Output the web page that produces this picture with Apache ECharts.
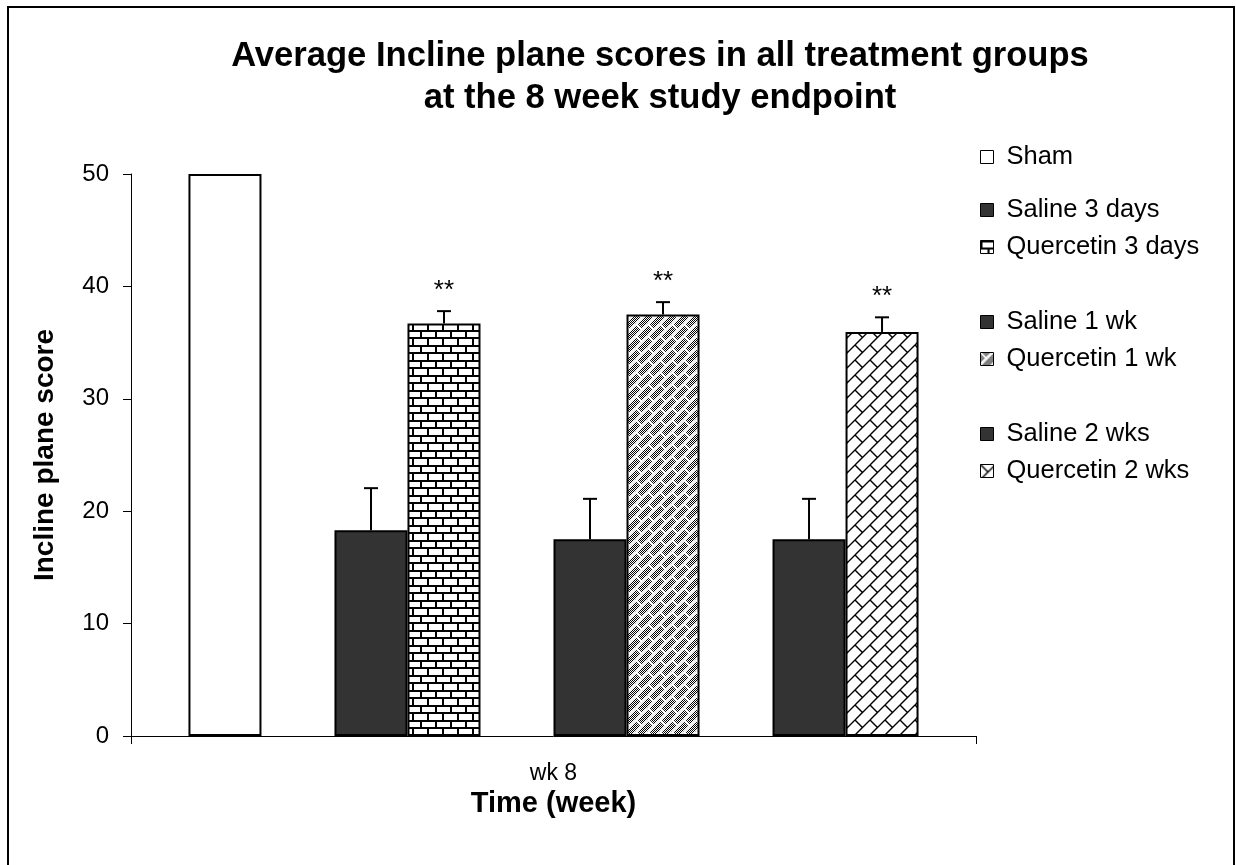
<!DOCTYPE html>
<html><head><meta charset="utf-8">
<script src="https://cdn.jsdelivr.net/npm/echarts@6/dist/echarts.min.js"></script>
<style>html,body{margin:0;padding:0;background:#fff}#c{width:1236px;height:865px}</style>
</head><body><div id="c"></div>
<script>
// ---------- data ----------
const categories = ['wk 8'];
const seriesNames = ['Sham', 'Saline 3 days', 'Quercetin 3 days', 'Saline 1 wk', 'Quercetin 1 wk', 'Saline 2 wks', 'Quercetin 2 wks'];
const means = [50, 18.3, 36.7, 17.5, 37.5, 17.5, 35.95];
const upperErr = [null, 22.05, 37.8, 21.1, 38.6, 21.1, 37.25];
const significance = ['', '', '**', '', '**', '', '**'];
// bar slots inside the single category (null = empty slot)
const slotOrder = [0, null, 1, 2, null, 3, 4, null, 5, 6];
const yTickLabels = [0, 10, 20, 30, 40, 50];
const legendGroups = [['Sham'], ['Saline 3 days', 'Quercetin 3 days'], ['Saline 1 wk', 'Quercetin 1 wk'], ['Saline 2 wks', 'Quercetin 2 wks']];

const FONT = "'Liberation Sans', Arial, sans-serif";
const CAT_GAP = 0.136;

// ---------- patterns ----------
function mk(w, h) { const c = document.createElement('canvas'); c.width = w; c.height = h; return c; }
function brick() {
  const c = mk(15, 15), g = c.getContext('2d');
  g.fillStyle = '#fff'; g.fillRect(0, 0, 15, 15);
  g.fillStyle = '#000';
  g.fillRect(0, 0, 15, 2); g.fillRect(0, 7, 15, 2);
  g.fillRect(0, 2, 2, 5); g.fillRect(7, 9, 2, 6);
  return c;
}
function diagBrick(T, bg, fg, lw, dither) {
  const c = mk(T, T), g = c.getContext('2d');
  g.fillStyle = bg; g.fillRect(0, 0, T, T);
  if (dither) {
    g.fillStyle = '#000';
    for (let y = 0; y < T; y++) for (let x = 0; x < T; x++) if ((x + y) % 2 === 0) g.fillRect(x, y, 1, 1);
  }
  g.strokeStyle = fg; g.lineWidth = lw;
  for (const ox of [-T, 0, T]) for (const oy of [-T, 0, T]) {
    g.beginPath();
    g.moveTo(ox, oy + T); g.lineTo(ox + T, oy);
    g.moveTo(ox, oy); g.lineTo(ox + T / 2, oy + T / 2);
    g.stroke();
  }
  return c;
}
const fills = {
  'Sham': '#ffffff',
  'Saline 3 days': '#333333',
  'Quercetin 3 days': { image: brick(), repeat: 'repeat' },
  'Saline 1 wk': '#333333',
  'Quercetin 1 wk': { image: diagBrick(12, '#fff', '#fff', 2.2, true), repeat: 'repeat' },
  'Saline 2 wks': '#333333',
  'Quercetin 2 wks': { image: diagBrick(15, '#fff', '#000', 1.4, false), repeat: 'repeat' }
};

// ---------- series ----------
const series = slotOrder.map((si, k) => {
  if (si === null) {
    return { type: 'bar', name: 'spacer' + k, data: ['-'], barGap: '0%', barCategoryGap: (CAT_GAP * 100) + '%', silent: true };
  }
  const nm = seriesNames[si];
  return {
    type: 'bar', name: nm, data: [means[si]],
    barGap: '0%', barCategoryGap: (CAT_GAP * 100) + '%',
    itemStyle: { color: fills[nm], borderColor: '#000', borderWidth: 2 },
    emphasis: { disabled: true }
  };
});

const errData = [];
slotOrder.forEach((si, k) => {
  if (si !== null && upperErr[si] !== null) errData.push([0, means[si], upperErr[si], k, si]);
});
series.push({
  type: 'custom', name: 'err', z: 10, silent: true,
  data: errData,
  renderItem: function (params, api) {
    const mean = api.value(1), up = api.value(2), slot = api.value(3), si = api.value(4);
    const base = api.coord([api.value(0), mean]);
    const topP = api.coord([api.value(0), up]);
    const band = api.size([1, 0])[0];
    const used = band * (1 - CAT_GAP);
    const bw = used / slotOrder.length;
    const x = base[0] - used / 2 + bw * (slot + 0.5);
    const kids = [
      { type: 'line', shape: { x1: x, y1: base[1], x2: x, y2: topP[1] }, style: { stroke: '#000', lineWidth: 2 } },
      { type: 'line', shape: { x1: x - 7, y1: topP[1], x2: x + 7, y2: topP[1] }, style: { stroke: '#000', lineWidth: 2 } }
    ];
    if (significance[si]) {
      kids.push({ type: 'text', x: x, y: topP[1] - 20, style: { text: significance[si], fontSize: 26, fontFamily: FONT, fill: '#000', align: 'center', verticalAlign: 'middle' } });
    }
    return { type: 'group', children: kids };
  }
});

const legendTops = [139, 192, 304, 416];
const legends = legendGroups.map((grp, i) => ({
  orient: 'vertical', left: 975, top: legendTops[i], data: grp,
  itemWidth: 13, itemHeight: 13, itemGap: 11, icon: 'rect', selectedMode: false,
  itemStyle: { borderColor: '#000', borderWidth: 1 },
  textStyle: { fontSize: 25.5, fontFamily: FONT, color: '#000', lineHeight: 26, padding: [0, 0, 0, 8] }
}));

const chart = echarts.init(document.getElementById('c'), null, { renderer: 'canvas' });
chart.setOption({
  animation: false,
  backgroundColor: '#fff',
  title: {
    text: 'Average Incline plane scores in all treatment groups\nat the 8 week study endpoint',
    left: 655, top: 30, textAlign: 'center',
    textStyle: { fontSize: 34.6, fontWeight: 'bold', fontFamily: FONT, color: '#000', lineHeight: 42 }
  },
  legend: legends,
  grid: { left: 131, right: 260, top: 174, bottom: 129, containLabel: false },
  xAxis: {
    type: 'category', data: categories,
    axisLine: { lineStyle: { color: '#000', width: 1 } },
    axisTick: { show: true, length: 8, lineStyle: { color: '#000' } },
    axisLabel: { fontSize: 23, fontFamily: FONT, color: '#000', margin: 26 },
    name: 'Time (week)', nameLocation: 'middle', nameGap: 51,
    nameTextStyle: { fontSize: 29, fontWeight: 'bold', fontFamily: FONT, color: '#000' }
  },
  yAxis: {
    type: 'value', min: yTickLabels[0], max: yTickLabels[yTickLabels.length - 1], interval: yTickLabels[1] - yTickLabels[0],
    axisLine: { show: true, lineStyle: { color: '#000', width: 1 } },
    axisTick: { show: true, length: 8, lineStyle: { color: '#000' } },
    splitLine: { show: false },
    axisLabel: { fontSize: 24, fontFamily: FONT, color: '#000', margin: 22 },
    name: 'Incline plane score', nameLocation: 'middle', nameGap: 72,
    nameTextStyle: { fontSize: 28, fontWeight: 'bold', fontFamily: FONT, color: '#000' }
  },
  graphic: [{ type: 'rect', shape: { x: 8, y: 7, width: 1226, height: 870 }, style: { fill: 'none', stroke: '#000', lineWidth: 2 }, silent: true }],
  series: series
});
</script></body></html>
